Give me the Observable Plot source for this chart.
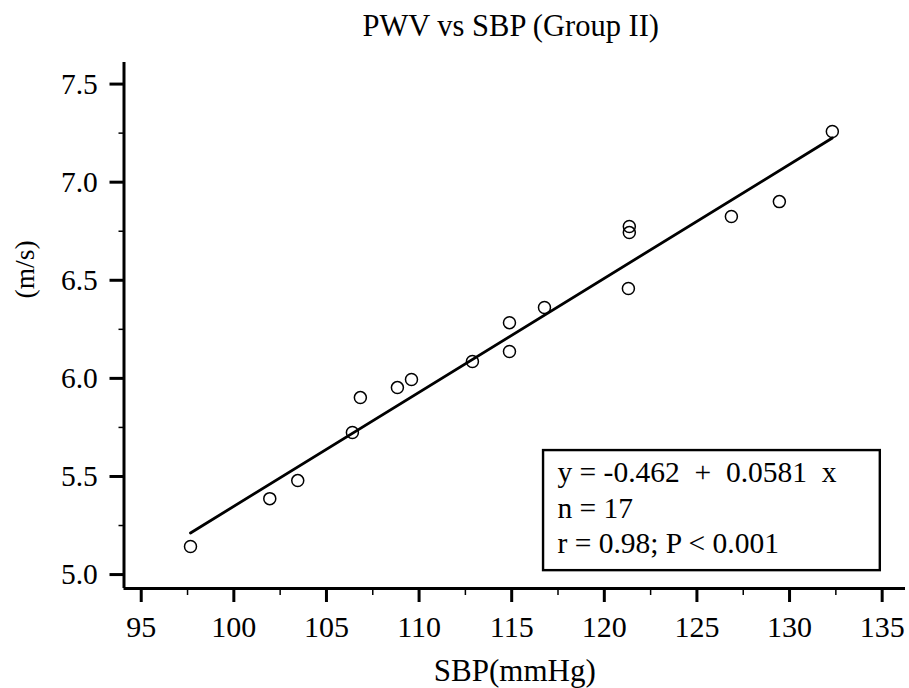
<!DOCTYPE html>
<html>
<head>
<meta charset="utf-8">
<script src="https://cdn.jsdelivr.net/npm/d3@7"></script>
<script src="https://cdn.jsdelivr.net/npm/@observablehq/plot@0.6"></script>
<style>
  html, body { margin: 0; padding: 0; background: #fff; }
  svg, svg text { font-family: "Liberation Serif", "Times New Roman", serif !important; }
</style>
</head>
<body>
<div id="chart"></div>
<script>
// ---- data ----
const sbp = [97.66, 101.94, 103.45, 106.40, 106.83, 108.83, 109.59, 112.88, 114.88, 114.88, 116.77, 121.30, 121.35, 121.35, 126.86, 129.45, 132.31];
const pwv = [5.143, 5.387, 5.479, 5.724, 5.902, 5.953, 5.994, 6.086, 6.284, 6.137, 6.361, 6.458, 6.743, 6.774, 6.825, 6.901, 7.258];
const fitIntercept = -0.462;
const fitSlope = 0.0581;
const xTicks = [95, 100, 105, 110, 115, 120, 125, 130, 135];
const xMinorTicks = [97.5, 102.5, 107.5, 112.5, 117.5, 122.5, 127.5, 132.5];
const yTicks = [5.0, 5.5, 6.0, 6.5, 7.0, 7.5];
const yMinorTicks = [5.25, 5.75, 6.25, 6.75, 7.25];
const legendLines = ["y = -0.462\u00a0 +\u00a0 0.0581\u00a0 x", "n = 17", "r = 0.98; P < 0.001"];
const titleText = "PWV vs SBP (Group II)";
const xLabel = "SBP(mmHg)";
const yLabel = "(m/s)";

// ---- derived tables ----
const points = sbp.map((x, i) => ({x, y: pwv[i]}));
const xMin = d3.min(sbp), xMax = d3.max(sbp);
const fitLine = [xMin, xMax].map(x => ({x, y: fitIntercept + fitSlope * x}));

const xDomain = [94.07, 136.26];
const yDomain = [4.929, 7.61];
const box = {x1: 116.72, x2: 134.9, y1: 5.02, y2: 5.632};
const legendX = 117.47;
const legendY = [5.474, 5.2905, 5.1086];
const legend = legendLines.map((t, i) => ({t, y: legendY[i]}));

const font = "Liberation Serif";

const chart = Plot.plot({
  width: 909,
  height: 688,
  marginLeft: 123.5,
  marginRight: 4,
  marginTop: 62,
  marginBottom: 100,
  style: {fontFamily: font, background: "#fff", color: "#000"},
  x: {domain: xDomain},
  y: {domain: yDomain},
  marks: [
    // minor ticks
    Plot.axisX(xMinorTicks, {tickSize: 7, strokeWidth: 1.5, text: null, label: null}),
    Plot.axisY(yMinorTicks, {tickSize: 5, strokeWidth: 1.5, text: null, label: null}),
    // major ticks
    Plot.axisX(xTicks, {tickSize: 14, strokeWidth: 3, text: null, label: null}),
    Plot.axisY(yTicks, {tickSize: 14, strokeWidth: 3, text: null, label: null}),
    // tick labels
    Plot.text(xTicks, {x: d => d, frameAnchor: "bottom", lineAnchor: "bottom", dy: 48.7, text: d => d3.format("d")(d), fontSize: 30, fill: "#000"}),
    Plot.text(yTicks, {y: d => d, frameAnchor: "left", textAnchor: "end", dx: -26.2, text: d => d3.format(".1f")(d), fontSize: 29.5, fill: "#000"}),
    // axis lines
    Plot.ruleX([xDomain[0]], {stroke: "#000", strokeWidth: 3, y1: yDomain[0], y2: yDomain[1]}),
    Plot.ruleY([yDomain[0]], {stroke: "#000", strokeWidth: 3, x1: xDomain[0], x2: xDomain[1]}),
    // fit line
    Plot.line(fitLine, {x: "x", y: "y", stroke: "#000", strokeWidth: 2.8}),
    // points
    Plot.dot(points, {x: "x", y: "y", r: 6, stroke: "#000", strokeWidth: 1.5, fill: "none"}),
    // legend box
    Plot.rect([box], {x1: "x1", x2: "x2", y1: "y1", y2: "y2", fill: "#fff", stroke: "#000", strokeWidth: 2.4}),
    Plot.text(legend, {x: () => legendX, y: "y", text: "t", textAnchor: "start", lineAnchor: "bottom", fontSize: 29.5, fill: "#000"}),
    // titles
    Plot.text([titleText], {frameAnchor: "top", lineAnchor: "bottom", dx: -4, dy: -27, fontSize: 30.5, fill: "#000"}),
    Plot.text([xLabel], {frameAnchor: "bottom", lineAnchor: "bottom", dy: 92, fontSize: 31, fill: "#000"}),
    Plot.text([yLabel], {frameAnchor: "left", dx: -98.5, dy: -27, rotate: -90, fontSize: 27.5, fill: "#000"})
  ]
});
document.getElementById("chart").appendChild(chart);
</script>
</body>
</html>
